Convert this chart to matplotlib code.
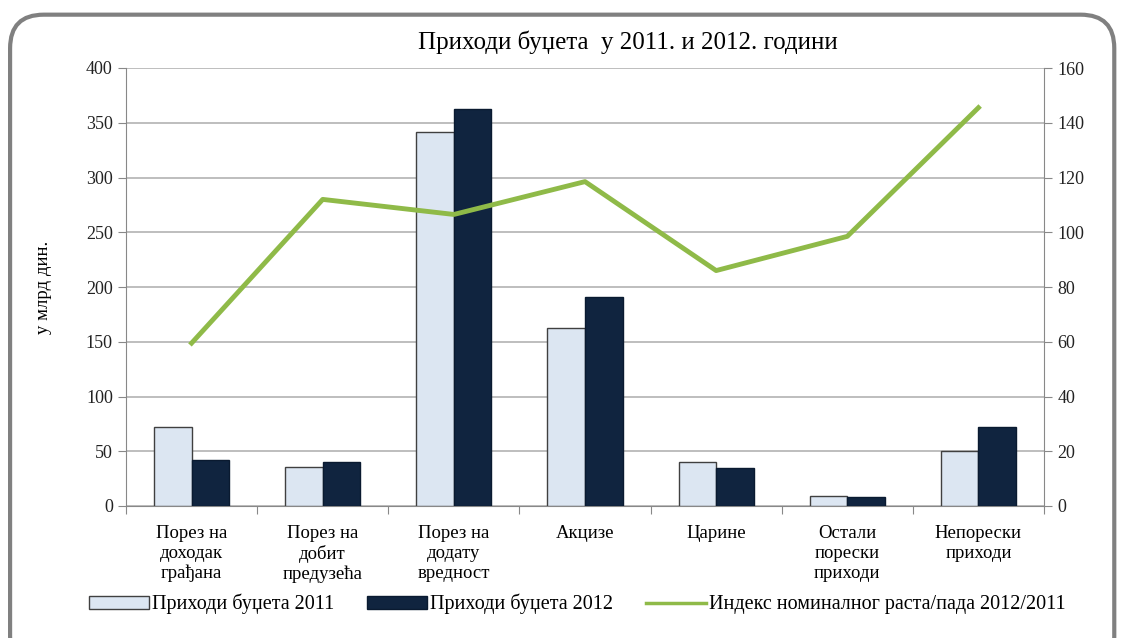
import numpy as np
import matplotlib.pyplot as plt
from matplotlib.patches import FancyBboxPatch
from matplotlib.lines import Line2D
from matplotlib.patches import Patch

plt.rcParams['font.family'] = ['Liberation Serif', 'DejaVu Serif']

categories = ["Порез на\nдоходак\nграђана", "Порез на\nдобит\nпредузећа", "Порез на\nдодату\nвредност",
              "Акцизе", "Царине", "Остали\nпорески\nприходи", "Непорески\nприходи"]
budget_2011 = [72, 35.5, 342, 162.5, 40, 9, 50]
budget_2012 = [42, 40, 362.5, 191, 35, 8.5, 72]
growth_index = [59.5, 112, 106.5, 118.5, 86, 98.5, 145.5]

fig = plt.figure(figsize=(11.21, 6.38), dpi=100)

# rounded outer frame, kept behind the axes
frame = FancyBboxPatch((0.009, -0.05), 0.985, 1.027, boxstyle="round,pad=0,rounding_size=0.03",
                       transform=fig.transFigure, facecolor='white', edgecolor='#808080',
                       linewidth=3, zorder=-10, mutation_aspect=1.75)
fig.patches.append(frame)

ax = fig.add_axes([126 / 1121, 1 - 506 / 638, (1044 - 126) / 1121, (506 - 68) / 638])
ax.set_facecolor('none')
x = np.arange(len(categories))
w = 0.286
ax.bar(x - w / 2, budget_2011, w, color='#dce6f2', edgecolor='#404040', linewidth=1, zorder=3)
ax.bar(x + w / 2, budget_2012, w, color='#10243f', edgecolor='#0a1a30', linewidth=1, zorder=3)
ax.set_xlim(-0.5, len(categories) - 0.5)
ax.set_ylim(0, 400)
ax.set_yticks(np.arange(0, 401, 50))
ax.yaxis.grid(True, color='#b3b3b3', linewidth=1.2, zorder=0)
ax.set_axisbelow(True)
ax.set_xticks(np.arange(-0.5, len(categories), 1))
ax.set_xticklabels([])
ax.set_xticks(x, minor=True)
ax.set_xticklabels(categories, minor=True, fontsize=13.5, linespacing=1.2, va='top')
ax.tick_params(axis='x', which='minor', length=0, pad=14)
ax.tick_params(axis='x', which='major', length=6, color='#888888')
ax.tick_params(axis='y', length=6, color='#888888', labelsize=13, labelcolor='#222222')
for s in ['top', 'right']:
    ax.spines[s].set_visible(False)
ax.spines['left'].set_color('#888888')
ax.spines['bottom'].set_color('#888888')
ax.set_ylabel("у млрд дин.", fontsize=13.5, labelpad=24)

ax2 = ax.twinx()
ax2.plot(x, growth_index, color='#8fba48', linewidth=3.5, zorder=4)
ax2.set_ylim(0, 160)
ax2.set_yticks(np.arange(0, 161, 20))
ax2.tick_params(axis='y', length=6, color='#888888', labelsize=13, labelcolor='#222222')
for s in ['top', 'left', 'bottom']:
    ax2.spines[s].set_visible(False)
ax2.spines['right'].set_color('#888888')

fig.text(0.56, 1 - 42 / 638, "Приходи буџета  у 2011. и 2012. години", ha='center', va='center', fontsize=18)

handles = [Patch(facecolor='#dce6f2', edgecolor='#404040', label='Приходи буџета 2011'),
           Patch(facecolor='#10243f', edgecolor='#0a1a30', label='Приходи буџета 2012'),
           Line2D([], [], color='#8fba48', linewidth=2.5, label='Индекс номиналног раста/пада 2012/2011')]
fig.legend(handles=handles, loc='center', bbox_to_anchor=(0.515, 1 - 604 / 638), ncol=3,
           frameon=False, fontsize=14.5, handlelength=3.0, handleheight=0.6, columnspacing=1.6,
           handletextpad=0.15)

fig.savefig('out.png', dpi=100)
